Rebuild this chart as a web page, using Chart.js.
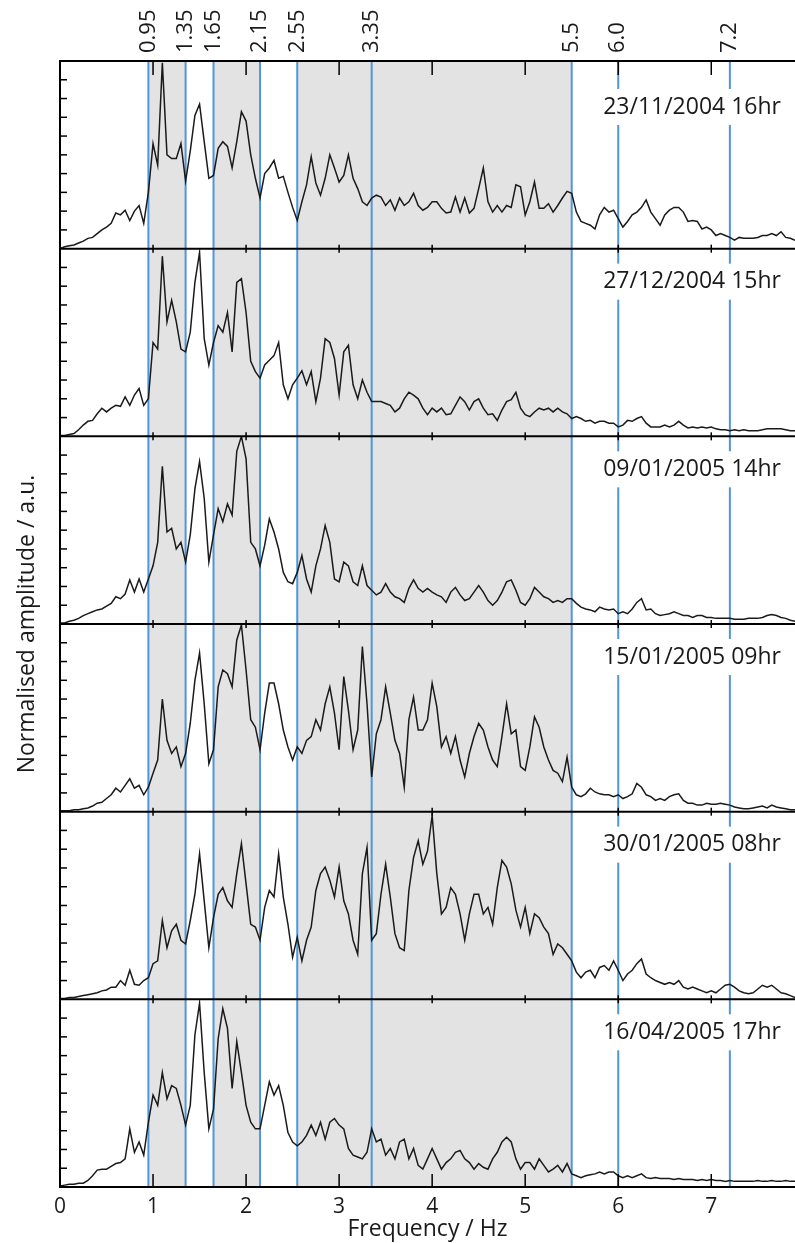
<!DOCTYPE html>
<html>
<head>
<meta charset="utf-8">
<script src="https://cdn.jsdelivr.net/npm/chart.js@4.4.1/dist/chart.umd.min.js"></script>
<style>
  html, body { margin: 0; padding: 0; background: #fff; }
  canvas { display: block; }
</style>
</head>
<body>
<canvas id="spectra" width="795" height="1243"></canvas>
<script>
// Frequency grid (Hz), one sample every 0.05 Hz from 0 to 7.9
const freqHz = Array.from({ length: 159 }, (_, i) => Math.round(i * 5) / 100);

const panelDates = ['23/11/2004 16hr', '27/12/2004 15hr', '09/01/2005 14hr',
                    '15/01/2005 09hr', '30/01/2005 08hr', '16/04/2005 17hr'];

// Normalised amplitude, 0..10 per panel (rows of 0.5 Hz)
const amp_2004_11_23 = [
  0.0, 0.1, 0.15, 0.2, 0.3, 0.4, 0.55, 0.6, 0.8, 1.0,
  1.15, 1.35, 1.9, 1.8, 2.05, 1.5, 2.0, 2.3, 1.35, 3.0,
  5.6, 4.45, 9.9, 5.0, 4.8, 4.8, 5.6, 3.6, 5.2, 7.1,
  7.7, 5.7, 3.75, 3.9, 5.35, 5.7, 5.45, 4.3, 5.7, 7.3,
  6.8, 5.0, 3.75, 2.7, 4.0, 4.3, 4.7, 3.75, 3.85, 3.0,
  2.2, 1.5, 2.5, 3.4, 4.9, 3.5, 2.85, 3.75, 5.0, 4.3,
  3.55, 3.9, 5.0, 3.75, 3.2, 2.5, 2.3, 2.7, 2.85, 2.75,
  2.3, 2.6, 2.05, 2.7, 2.3, 2.5, 2.95, 2.3, 2.05, 2.2,
  2.5, 2.5, 2.15, 1.9, 1.95, 2.75, 1.95, 2.7, 1.9, 2.15,
  3.2, 4.3, 2.5, 1.95, 2.3, 1.95, 2.3, 2.2, 3.4, 3.3,
  1.8, 2.5, 3.55, 2.15, 2.15, 2.4, 1.95, 2.3, 2.7, 3.05,
  2.95, 1.95, 1.45, 1.35, 1.25, 1.05, 1.8, 2.2, 1.95, 2.05,
  1.6, 1.15, 1.45, 1.8, 1.95, 2.2, 2.6, 1.95, 1.6, 1.25,
  1.8, 2.05, 2.2, 2.2, 1.95, 1.45, 1.5, 1.45, 1.05, 1.15,
  1.0, 0.7, 0.8, 0.7, 0.6, 0.45, 0.6, 0.55, 0.55, 0.55,
  0.6, 0.7, 0.7, 0.8, 0.7, 0.9, 0.6, 0.55, 0.45
];
const amp_2004_12_27 = [
  0.05, 0.05, 0.1, 0.15, 0.35, 0.6, 0.8, 0.85, 1.2, 1.5,
  1.3, 1.5, 1.65, 1.6, 2.1, 1.65, 2.2, 2.55, 1.65, 2.0,
  5.0, 4.65, 9.6, 6.1, 7.25, 6.1, 4.65, 4.5, 5.55, 8.2,
  9.8, 5.2, 3.8, 5.0, 5.9, 5.55, 6.6, 4.5, 8.2, 8.4,
  6.6, 4.0, 3.45, 3.1, 3.8, 4.05, 4.3, 5.0, 2.75, 2.0,
  2.75, 3.1, 3.5, 2.75, 3.45, 1.85, 3.1, 5.2, 5.0, 4.15,
  2.2, 4.5, 4.85, 2.75, 2.0, 3.0, 2.35, 1.85, 1.85, 1.85,
  1.75, 1.65, 1.3, 1.5, 2.0, 2.35, 2.2, 2.0, 1.5, 1.15,
  1.5, 1.3, 1.5, 1.15, 1.2, 1.65, 2.1, 1.85, 1.4, 1.85,
  2.0, 1.5, 1.15, 1.2, 0.85, 1.4, 1.85, 1.95, 2.35, 1.5,
  1.15, 1.05, 1.3, 1.5, 1.4, 1.5, 1.3, 1.5, 1.3, 1.2,
  0.95, 1.05, 0.95, 0.8, 0.85, 0.7, 0.8, 0.8, 0.7, 0.7,
  0.5, 0.6, 0.85, 0.8, 0.95, 1.05, 0.7, 0.5, 0.5, 0.5,
  0.6, 0.5, 0.6, 0.8, 0.6, 0.45, 0.5, 0.45, 0.5, 0.45,
  0.5, 0.4, 0.35, 0.35, 0.3, 0.35, 0.3, 0.35, 0.3, 0.3,
  0.3, 0.35, 0.4, 0.4, 0.4, 0.4, 0.35, 0.3, 0.3
];
const amp_2005_01_09 = [
  0.05, 0.05, 0.15, 0.2, 0.3, 0.45, 0.55, 0.65, 0.75, 0.8,
  0.95, 1.1, 1.45, 1.35, 1.6, 2.35, 1.7, 2.4, 1.7, 2.4,
  3.1, 4.35, 8.4, 4.9, 5.1, 4.0, 4.35, 3.3, 4.75, 7.2,
  8.65, 6.7, 3.3, 4.75, 6.15, 5.45, 6.4, 5.8, 9.2, 10.0,
  8.8, 4.35, 4.0, 3.1, 4.2, 5.6, 4.9, 4.0, 2.75, 2.25,
  2.15, 2.75, 3.65, 2.4, 1.7, 3.1, 4.0, 5.25, 4.35, 2.4,
  2.25, 3.3, 3.1, 2.25, 2.05, 3.1, 2.05, 1.8, 1.55, 1.7,
  2.15, 1.7, 1.45, 1.35, 1.15, 1.9, 2.35, 1.9, 1.7, 1.9,
  1.7, 1.55, 1.45, 1.15, 1.7, 1.95, 1.55, 1.25, 1.35, 1.7,
  2.05, 1.7, 1.25, 1.0, 1.25, 1.7, 2.25, 2.35, 1.8, 1.15,
  1.0, 1.35, 1.95, 1.7, 1.45, 1.35, 1.15, 1.25, 1.15, 1.35,
  1.35, 1.1, 0.9, 0.8, 0.75, 0.65, 0.9, 0.8, 0.75, 0.8,
  0.55, 0.65, 0.55, 0.8, 1.15, 1.35, 0.75, 0.8, 0.55, 0.45,
  0.5, 0.55, 0.65, 0.55, 0.45, 0.45, 0.35, 0.45, 0.45, 0.35,
  0.35, 0.3, 0.3, 0.3, 0.3, 0.25, 0.25, 0.25, 0.3, 0.3,
  0.3, 0.35, 0.45, 0.5, 0.45, 0.35, 0.3, 0.2, 0.15
];
const amp_2005_01_15 = [
  0.05, 0.05, 0.05, 0.1, 0.1, 0.15, 0.2, 0.3, 0.45, 0.5,
  0.7, 0.9, 1.25, 1.05, 1.4, 1.75, 1.25, 1.4, 0.9, 1.3,
  2.05, 2.75, 6.0, 3.8, 3.1, 3.45, 2.4, 3.1, 4.7, 7.0,
  8.45, 5.75, 2.55, 3.3, 6.65, 7.55, 7.35, 6.65, 9.15, 9.95,
  7.55, 4.9, 4.5, 3.3, 5.25, 6.85, 6.85, 5.75, 4.35, 3.45,
  2.75, 3.45, 3.1, 3.8, 4.0, 4.9, 4.35, 5.75, 6.65, 5.25,
  3.3, 7.2, 5.4, 3.3, 4.35, 8.8, 5.75, 1.85, 4.15, 4.9,
  6.65, 5.25, 3.8, 3.1, 1.3, 4.9, 6.1, 4.35, 4.35, 4.9,
  6.85, 5.6, 3.45, 4.0, 3.1, 4.0, 2.75, 1.85, 3.1, 4.0,
  4.7, 4.35, 3.45, 2.75, 2.4, 4.0, 5.75, 4.15, 4.35, 2.4,
  2.2, 3.45, 5.05, 4.5, 3.45, 2.75, 2.2, 2.05, 1.6, 2.9,
  1.3, 0.9, 0.8, 0.95, 1.25, 1.05, 0.95, 0.9, 0.9, 0.8,
  0.9, 0.7, 0.8, 0.95, 1.5, 1.3, 0.9, 0.8, 0.6, 0.7,
  0.6, 0.8, 0.9, 0.95, 0.6, 0.45, 0.45, 0.35, 0.35, 0.45,
  0.4, 0.4, 0.45, 0.4, 0.35, 0.25, 0.2, 0.15, 0.15, 0.2,
  0.25, 0.3, 0.2, 0.35, 0.25, 0.2, 0.15, 0.1, 0.1
];
const amp_2005_01_30 = [
  0.05, 0.05, 0.1, 0.1, 0.15, 0.2, 0.25, 0.3, 0.35, 0.45,
  0.5, 0.65, 0.65, 1.0, 0.75, 1.55, 0.8, 0.75, 1.0, 1.15,
  1.9, 2.05, 4.2, 2.75, 3.65, 4.0, 3.15, 2.95, 4.2, 5.6,
  7.75, 5.25, 2.75, 4.35, 5.6, 5.95, 5.25, 4.9, 6.7, 8.3,
  6.15, 4.0, 3.85, 3.15, 4.9, 5.8, 5.45, 7.75, 5.45, 4.0,
  2.25, 3.3, 2.05, 3.15, 3.85, 5.8, 6.7, 7.05, 6.35, 5.45,
  7.05, 5.25, 4.55, 3.15, 2.4, 6.7, 8.1, 3.15, 3.5, 5.6,
  7.2, 5.45, 3.5, 2.75, 2.6, 5.8, 7.55, 8.45, 7.2, 7.9,
  9.8, 6.7, 4.55, 4.9, 5.95, 5.6, 4.55, 3.15, 4.55, 5.6,
  5.6, 4.55, 4.9, 4.0, 5.95, 7.4, 7.05, 6.15, 4.75, 3.85,
  4.9, 3.5, 4.55, 4.35, 3.85, 3.5, 2.4, 2.95, 2.75, 2.4,
  2.05, 1.45, 1.15, 1.45, 1.55, 1.15, 1.7, 1.8, 1.55, 2.05,
  1.55, 1.0, 1.35, 1.55, 1.9, 2.15, 1.35, 1.15, 1.0, 0.9,
  0.8, 0.9, 0.8, 1.0, 0.65, 0.55, 0.65, 0.55, 0.45, 0.35,
  0.45, 0.35, 0.55, 0.75, 0.8, 0.65, 0.45, 0.35, 0.3, 0.35,
  0.55, 0.75, 0.65, 0.75, 0.55, 0.35, 0.3, 0.2, 0.1
];
const amp_2005_04_16 = [
  0.05, 0.1, 0.15, 0.15, 0.2, 0.2, 0.35, 0.6, 0.9, 0.95,
  0.95, 1.1, 1.25, 1.3, 1.5, 3.1, 1.85, 2.4, 1.7, 3.45,
  4.9, 4.35, 6.1, 4.7, 5.4, 5.25, 4.35, 3.3, 4.35, 8.1,
  9.8, 6.1, 3.1, 4.15, 7.9, 9.5, 8.45, 5.25, 7.75, 6.1,
  4.35, 3.45, 3.1, 3.1, 4.35, 5.6, 4.9, 5.4, 4.35, 2.9,
  2.4, 2.2, 2.4, 2.75, 3.3, 2.75, 3.45, 2.55, 3.45, 3.65,
  3.3, 3.1, 2.05, 1.7, 1.6, 1.5, 1.85, 3.1, 2.4, 2.55,
  1.7, 2.05, 1.5, 2.4, 2.55, 1.5, 2.05, 1.15, 0.95, 1.5,
  2.05, 1.5, 0.95, 1.3, 1.5, 1.85, 1.95, 1.5, 1.3, 0.95,
  1.25, 1.05, 0.95, 1.5, 1.85, 2.4, 2.65, 2.4, 1.5, 0.95,
  1.3, 1.3, 0.95, 1.5, 1.15, 0.8, 0.95, 1.15, 0.8, 1.25,
  0.7, 0.6, 0.5, 0.6, 0.65, 0.7, 0.8, 0.7, 0.8, 0.8,
  0.6, 0.5, 0.6, 0.5, 0.6, 0.7, 0.5, 0.45, 0.5, 0.45,
  0.45, 0.45, 0.4, 0.45, 0.4, 0.4, 0.4, 0.35, 0.4, 0.35,
  0.4, 0.35, 0.35, 0.3, 0.35, 0.3, 0.3, 0.3, 0.3, 0.3,
  0.35, 0.3, 0.3, 0.35, 0.3, 0.3, 0.35, 0.3, 0.3
];
const panelAmps = [amp_2004_11_23, amp_2004_12_27, amp_2005_01_09,
                   amp_2005_01_15, amp_2005_01_30, amp_2005_04_16];

// Marked frequencies (blue lines) and the shaded bands between them
const markerHz = [0.95, 1.35, 1.65, 2.15, 2.55, 3.35, 5.5, 6.0, 7.2];
const markerLabels = ['0.95', '1.35', '1.65', '2.15', '2.55', '3.35', '5.5', '6.0', '7.2'];
const shadedBands = [[0.95, 1.35], [1.65, 2.15], [2.55, 5.5]];
const xTickLabels = ['0', '1', '2', '3', '4', '5', '6', '7'];
const xTitle = 'Frequency / Hz';
const yTitle = 'Normalised amplitude / a.u.';

const FONT = '"Open Sans", "Noto Sans", sans-serif';
const INK = '#1a1a1a';
const BLUE = '#4f96dc';
const SHADE = '#e3e3e3';

const panelIds = panelDates.map((_, i) => 'p' + i);

function line(ctx, x0, y0, x1, y1) {
    ctx.beginPath();
    ctx.moveTo(x0, y0);
    ctx.lineTo(x1, y1);
    ctx.stroke();
}

// Shading, marker lines, panel frames, inward ticks and free text
const decor = {
    id: 'decor',
    beforeDatasetsDraw(chart) {
        const { ctx, chartArea: a, scales } = chart;
        const x = scales.x;
        ctx.save();
        ctx.fillStyle = SHADE;
        shadedBands.forEach(([lo, hi]) => {
            const x0 = x.getPixelForValue(lo), x1 = x.getPixelForValue(hi);
            ctx.fillRect(x0, a.top, x1 - x0, a.bottom - a.top);
        });
        ctx.strokeStyle = BLUE;
        ctx.lineWidth = 2;
        markerHz.forEach(f => {
            const px = x.getPixelForValue(f);
            line(ctx, px, a.top, px, a.bottom);
        });
        // date labels sit on a white patch that interrupts the blue lines
        ctx.font = '23px ' + FONT;
        ctx.textAlign = 'right';
        ctx.textBaseline = 'middle';
        panelIds.forEach((id, i) => {
            const ty = scales[id].top + (i === 0 ? 46 : 33);
            const tx = a.right - 14;
            const w = ctx.measureText(panelDates[i]).width;
            ctx.fillStyle = '#fff';
            ctx.fillRect(tx - w - 4, ty - 18, w + 8, 36);
            ctx.fillStyle = INK;
            ctx.fillText(panelDates[i], tx, ty);
        });
        ctx.restore();
    },
    afterDatasetsDraw(chart) {
        const { ctx, chartArea: a, scales } = chart;
        const x = scales.x;
        ctx.save();
        ctx.strokeStyle = '#000';
        ctx.lineWidth = 2;
        panelIds.forEach(id => line(ctx, a.left, scales[id].top, a.right, scales[id].top));
        line(ctx, a.left, a.bottom, a.right, a.bottom);
        line(ctx, a.left, a.top, a.left, a.bottom);

        ctx.lineWidth = 1.5;
        for (let v = 1; v <= 7; v++) {
            const px = x.getPixelForValue(v);
            line(ctx, px, a.top, px, a.top + 14);
            line(ctx, px, a.bottom, px, a.bottom - 13);
            panelIds.slice(1).forEach(id => {
                const y = scales[id].top;
                line(ctx, px, y - 4, px, y + 4);
            });
        }
        panelIds.forEach(id => {
            const s = scales[id];
            for (let v = 1; v < 10; v++) {
                const py = s.getPixelForValue(v);
                line(ctx, a.left, py, a.left + 7, py);
            }
        });

        ctx.fillStyle = INK;
        ctx.font = '22px ' + FONT;
        ctx.textAlign = 'left';
        ctx.textBaseline = 'middle';
        markerHz.forEach((f, i) => {
            ctx.save();
            ctx.translate(x.getPixelForValue(f), a.top - 8);
            ctx.rotate(-Math.PI / 2);
            ctx.fillText(markerLabels[i], 0, 0);
            ctx.restore();
        });

        ctx.save();
        ctx.translate(27, (a.top + a.bottom) / 2);
        ctx.rotate(-Math.PI / 2);
        ctx.textAlign = 'center';
        ctx.font = '23px ' + FONT;
        ctx.fillText(yTitle, 0, 0);
        ctx.restore();
        ctx.restore();
    }
};

const scales = {
    x: {
        type: 'linear', position: 'bottom', min: 0, max: 7.9,
        ticks: {
            stepSize: 1, includeBounds: false, maxRotation: 0, padding: 7,
            color: INK, font: { family: FONT, size: 21 },
            callback: v => xTickLabels[v] ?? ''
        },
        grid: { drawOnChartArea: false, drawTicks: false },
        border: { color: '#000', width: 2 },
        title: { display: true, text: xTitle, color: INK, font: { family: FONT, size: 23 }, padding: { top: 0, bottom: 0 } },
        afterFit: s => { s.height = 56; }
    }
};
// left-hand stacked axes are laid out last-defined-first, so add them bottom-up
for (let i = panelIds.length - 1; i >= 0; i--) {
    scales[panelIds[i]] = {
        type: 'linear', position: 'left', stack: 'panels', stackWeight: 1,
        min: 0, max: 10,
        ticks: { display: false },
        grid: { drawOnChartArea: false, drawTicks: false },
        border: { color: '#000', width: 2 },
        afterFit: s => { s.width = 60; }
    };
}

new Chart(document.getElementById('spectra'), {
    type: 'line',
    data: {
        datasets: panelIds.map((id, i) => ({
            label: panelDates[i],
            data: freqHz.map((f, j) => ({ x: f, y: panelAmps[i][j] })),
            xAxisID: 'x',
            yAxisID: id,
            borderColor: INK,
            borderWidth: 1.5,
            pointRadius: 0,
            tension: 0,
            fill: false
        }))
    },
    options: {
        responsive: false,
        animation: false,
        layout: { padding: { top: 61, left: 0, right: 0, bottom: 0 } },
        plugins: { legend: { display: false }, tooltip: { enabled: false } },
        scales: scales
    },
    plugins: [decor]
});
</script>
</body>
</html>
